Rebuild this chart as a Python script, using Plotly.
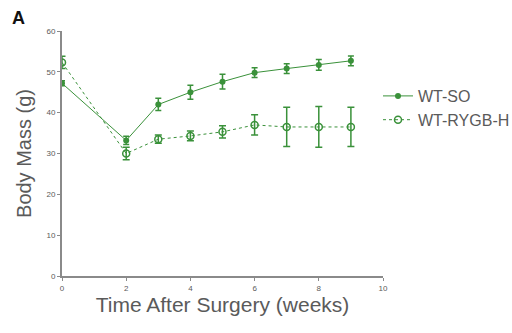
import plotly.graph_objects as go

# Body mass after surgery, mean ± SEM
weeks = [0, 2, 3, 4, 5, 6, 7, 8, 9]
so_mass = [47.2, 33.2, 42.0, 45.0, 47.6, 49.8, 50.8, 51.7, 52.7]
so_err = [0.6, 1.0, 1.5, 1.7, 1.8, 1.2, 1.2, 1.3, 1.2]
rygb_mass = [52.3, 30.0, 33.5, 34.3, 35.3, 37.0, 36.5, 36.5, 36.5]
rygb_err = [1.5, 1.5, 1.0, 1.2, 1.5, 2.5, 4.8, 5.0, 4.8]

x_ticks = [0, 2, 4, 6, 8, 10]
y_ticks = [0, 10, 20, 30, 40, 50, 60]

GREEN = "#3a913a"
GREY = "#5a5a5a"
FONT = "Liberation Sans, Arial, sans-serif"

fig = go.Figure()

fig.add_trace(go.Scatter(
    x=weeks, y=so_mass, name="WT-SO", mode="lines+markers",
    line=dict(color=GREEN, width=1),
    marker=dict(symbol="circle", size=6, color=GREEN),
    error_y=dict(type="data", array=so_err, color=GREEN, thickness=1.5, width=3),
))
fig.add_trace(go.Scatter(
    x=weeks, y=rygb_mass, name="WT-RYGB-H", mode="lines+markers",
    line=dict(color=GREEN, width=1, dash="dot"),
    marker=dict(symbol="circle-open", size=7, color=GREEN, line=dict(width=1.5)),
    error_y=dict(type="data", array=rygb_err, color=GREEN, thickness=1.5, width=3.5),
))

axis_common = dict(
    showgrid=False, zeroline=False, showline=True, linecolor="#8a8a8a", linewidth=2,
    ticks="outside", ticklen=3, tickcolor="#8a8a8a",
    tickfont=dict(family=FONT, size=8, color=GREY),
)

fig.update_layout(
    width=512, height=333,
    margin=dict(l=62, r=129, t=31, b=57, autoexpand=False),
    paper_bgcolor="white", plot_bgcolor="white",
    font=dict(family=FONT, color=GREY),
    xaxis=dict(range=[0, 10], tickvals=x_ticks,
               title=dict(text="Time After Surgery (weeks)", standoff=3,
                          font=dict(family=FONT, size=21, color=GREY)),
               **axis_common),
    yaxis=dict(range=[0, 60], tickvals=y_ticks,
               title=dict(text="Body Mass (g)", standoff=9,
                          font=dict(family=FONT, size=20, color=GREY)),
               **axis_common),
    legend=dict(xref="container", yref="container", x=378 / 512, y=1 - 79 / 333,
                xanchor="left", yanchor="top",
                font=dict(family=FONT, size=16, color=GREY),
                bgcolor="rgba(0,0,0,0)", itemwidth=30),
    annotations=[dict(text="<b>A</b>", x=(10 - 62) / 321, y=(276 - 6) / 245,
                      xref="paper", yref="paper",
                      xanchor="left", yanchor="top", showarrow=False,
                      font=dict(family=FONT, size=18, color="#111111"))],
)

fig.write_html("out.html")
